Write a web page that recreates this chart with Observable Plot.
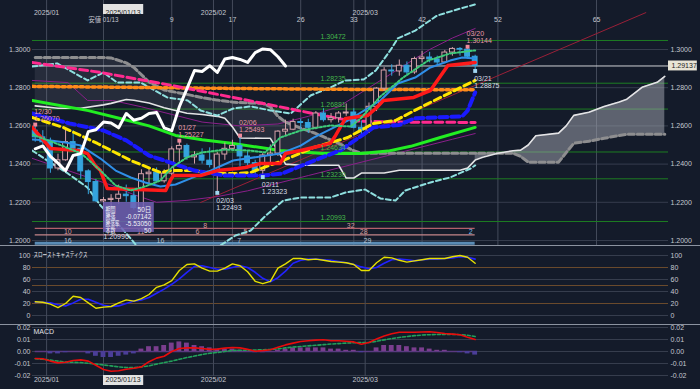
<!DOCTYPE html>
<html><head><meta charset="utf-8">
<script src="https://cdn.jsdelivr.net/npm/d3@7"></script>
<script src="https://cdn.jsdelivr.net/npm/@observablehq/plot@0.6"></script>
<style>
html,body{margin:0;padding:0;background:#141b2a;}
#chart{position:relative;width:700px;height:389px;background:#141b2a;overflow:hidden;}
.sep{position:absolute;left:0;width:700px;height:1px;background:#8c93a0;}
</style></head><body><div id="chart"></div>
<script>
// ---------- DATA (GBP/USD daily, bar index 0 = 2025/01/02) ----------
const firstBar = -2;
const open  = [1.2575,1.2540,1.2514,1.2377,1.2420,1.2515,1.2480,1.2362,1.2306,1.2205,1.2212,1.2218,1.2240,1.2232,1.2170,1.2347,1.2355,1.2310,1.2350,1.2477,1.2495,1.2435,1.2445,1.2418,1.2340,1.2450,1.2480,1.2495,1.2440,1.2405,1.2365,1.2445,1.2455,1.2570,1.2580,1.2620,1.2615,1.2590,1.2665,1.2630,1.2640,1.2665,1.2670,1.2590,1.2575,1.2700,1.2795,1.2890,1.2885,1.2915,1.2880,1.2950,1.2958,1.2948,1.2932,1.2984,1.3003,1.2999,1.2962];
const high  = [1.2607,1.2575,1.2536,1.2452,1.2576,1.2575,1.2490,1.2370,1.2320,1.2225,1.2240,1.2290,1.2290,1.2260,1.2370,1.2375,1.2380,1.2370,1.2490,1.25227,1.2505,1.2465,1.2480,1.2485,1.2460,1.2510,1.2525,1.25493,1.2470,1.2420,1.2455,1.2500,1.2575,1.2630,1.2635,1.2635,1.2635,1.2675,1.2690,1.2665,1.2675,1.2715,1.2690,1.2625,1.2720,1.2800,1.2905,1.2920,1.2945,1.2935,1.2960,1.2990,1.2985,1.2965,1.2995,1.3010,1.3010,1.30144,1.2970];
const low   = [1.2515,1.2500,1.2352,1.2365,1.2415,1.2475,1.2320,1.2240,1.2200,1.20996,1.2160,1.2190,1.2200,1.2160,1.2160,1.2285,1.2300,1.2300,1.2340,1.2410,1.2420,1.2400,1.2400,1.2380,1.22493,1.2420,1.2470,1.2385,1.2375,1.2335,1.23323,1.2400,1.2440,1.2550,1.2575,1.2580,1.2560,1.2580,1.2620,1.2615,1.2615,1.2650,1.2585,1.2555,1.2560,1.2675,1.2780,1.2860,1.2860,1.2860,1.2870,1.2930,1.2930,1.2910,1.2925,1.2965,1.2965,1.2950,1.28875];
const close = [1.2540,1.2514,1.2377,1.2420,1.2515,1.2480,1.2362,1.2306,1.2205,1.2212,1.2218,1.2240,1.2232,1.2170,1.2347,1.2355,1.2310,1.2350,1.2477,1.2495,1.2435,1.2445,1.2418,1.2395,1.2450,1.2480,1.2495,1.2440,1.2405,1.2365,1.2445,1.2455,1.2570,1.2580,1.2620,1.2615,1.2590,1.2665,1.2630,1.2640,1.2665,1.2670,1.2590,1.2575,1.2700,1.2795,1.2890,1.2885,1.2915,1.2880,1.2950,1.2958,1.2948,1.2932,1.2984,1.3003,1.2999,1.2962,1.29137];
const chikouShift = 25;

// Ichimoku cloud (senkou spans), read at these bar positions
const cloudIdx = [-2,1,4,7,8,10,11,13,15,18,20,22,23,24,25,28,29,30,31,33,35,38,39,40,41,44,46,54,55,56,57,59,61,62,63,64,67,68,69,71,73,75,76,78,80,81];
const spanA = [1.2705,1.2692,1.2692,1.2710,1.2718,1.2738,1.2734,1.2720,1.2695,1.2666,1.2660,1.2650,1.2640,1.2595,1.2537,1.2535,1.2535,1.2470,1.2400,1.2394,1.2394,1.2394,1.2327,1.2327,1.2353,1.2353,1.2368,1.2368,1.2379,1.2421,1.2436,1.2457,1.2470,1.2473,1.2500,1.2548,1.2562,1.2600,1.2655,1.2671,1.2702,1.2725,1.2740,1.2802,1.2828,1.2859];
const spanB = [1.2958,1.2958,1.2958,1.2958,1.2956,1.2930,1.2906,1.2830,1.2788,1.2765,1.2748,1.2735,1.2730,1.2725,1.2722,1.2718,1.2700,1.2650,1.2620,1.2588,1.2560,1.2509,1.2490,1.2470,1.2457,1.2457,1.2457,1.2457,1.2457,1.2457,1.2457,1.2457,1.2457,1.2440,1.2410,1.2410,1.2410,1.2460,1.2509,1.2520,1.2535,1.2550,1.2556,1.2556,1.2556,1.2556];

// indicator lines [bar, price]
const maPink   = [[-2.4,1.2932],[6.6,1.2880],[16,1.2812],[24.1,1.2749],[32.6,1.2681],[37.9,1.2639],[40,1.2626],[45,1.2620],[56,1.2618]];
const maOrange = [[-2.4,1.2807],[10,1.2802],[24,1.2796],[40,1.2791],[56,1.2789]];
const maLime   = [[-2.4,1.2733],[5,1.2680],[9.2,1.2639],[13,1.2600],[16.5,1.2550],[20,1.2528],[24.1,1.2508],[30.3,1.2471],[36,1.2456],[41,1.2455],[44.5,1.2468],[47.5,1.2493],[51.4,1.2539],[56,1.2592]];
const maYellow = [[-2.4,1.2644],[1.7,1.2592],[6.2,1.2508],[10.6,1.2419],[14.5,1.2356],[15.8,1.2366],[18.9,1.2366],[22,1.2351],[24.7,1.2351],[26.4,1.2356],[28.1,1.2382],[30.7,1.2419],[34.7,1.2487],[39.2,1.2539],[42.6,1.2613],[45.5,1.2628],[47.5,1.2670],[49.8,1.2717],[56,1.2838]];
const maBlue   = [[-2.4,1.2665],[2.5,1.2613],[7,1.2576],[10,1.2524],[13,1.2445],[15,1.2419],[19,1.2366],[23,1.2340],[28,1.2340],[30.5,1.2350],[33,1.2390],[35.5,1.2430],[38.2,1.2471],[42.6,1.2592],[46,1.2605],[48,1.2640],[54.3,1.2650],[55,1.2680],[56,1.2775]];
const tenkanRed = [[-2.4,1.2592],[-0.9,1.2524],[0,1.2482],[3.6,1.2471],[4.9,1.2455],[5.9,1.2393],[6.6,1.2366],[7.5,1.2272],[15.2,1.2262],[15.8,1.2314],[16.2,1.2340],[19.8,1.2340],[22,1.2366],[24.7,1.2377],[25.7,1.2382],[27.7,1.2403],[30.3,1.2403],[31,1.2455],[33,1.2471],[36.9,1.2508],[37.6,1.2550],[38.9,1.2639],[41.8,1.2654],[42.9,1.2691],[43.9,1.2733],[47.9,1.2749],[49.5,1.2775],[50.1,1.2785],[52.4,1.2916],[56,1.2932]];
const kijunBlue = [[-2.4,1.2529],[0,1.2524],[2,1.2513],[4,1.2497],[6.6,1.2429],[8.6,1.2366],[10.6,1.2330],[12.5,1.2304],[14.5,1.2283],[16.5,1.2293],[18.5,1.2325],[21.1,1.2366],[24.1,1.2419],[27.7,1.2440],[30.3,1.2455],[33,1.2497],[34.7,1.2539],[39.2,1.2628],[43.5,1.2733],[45.8,1.2822],[48.1,1.2853],[50.1,1.2906],[52.7,1.2942],[54.3,1.2958],[56,1.2953]];
const maGreenDot = [[-2.4,1.2555],[1.3,1.2500],[4.1,1.2455],[6.6,1.2366],[8.6,1.2288],[10.6,1.2262],[12.5,1.2283],[14.5,1.2314],[16,1.2382],[18,1.2435],[20,1.2461],[23,1.2476],[26.4,1.2471],[28.3,1.2461],[30.3,1.2539],[33,1.2576],[36.9,1.2602],[39.6,1.2597],[40.9,1.2639],[43.5,1.2754],[46.5,1.2853],[49.8,1.2942],[52.7,1.2979],[56,1.2995]];
const bbUpper2 = [[-2.4,1.2911],[0.9,1.2927],[4.9,1.2838],[7,1.2880],[8.8,1.2827],[11.9,1.2827],[15.4,1.2749],[18.1,1.2733],[19.8,1.2681],[22,1.2654],[24.1,1.2691],[26.4,1.2702],[29,1.2681],[31.7,1.2665],[34.3,1.2759],[36.9,1.2801],[38.9,1.2838],[41.3,1.2843],[42.9,1.2890],[44.8,1.2995],[45.8,1.3058],[48.1,1.3099],[51,1.3178],[54.1,1.3215],[56,1.3236]];
const bbLower2 = [[-2.4,1.2471],[0,1.2408],[2.3,1.2351],[4.9,1.2277],[6.6,1.2183],[7.9,1.2131],[9.9,1.2042],[11.9,1.1948],[14.5,1.1921],[17.8,1.1948],[19.8,1.1937],[22.4,1.1974],[24.4,1.2026],[26.4,1.2052],[28.4,1.2131],[30.7,1.2209],[33,1.2225],[36.9,1.2225],[38.9,1.2251],[41.5,1.2267],[43.5,1.2220],[45.5,1.2209],[46.8,1.2262],[50.1,1.2304],[52.7,1.2330],[55.4,1.2377],[56,1.2393]];
const bbUpper1 = [[-2.4,1.2838],[2.3,1.2827],[4.9,1.2733],[8.2,1.2733],[12,1.2700],[16,1.2660],[20,1.2620],[25,1.2600],[30,1.2610],[34,1.2650],[38,1.2700],[42,1.2800],[46,1.2900],[50,1.3000],[53,1.3060],[56,1.3110]];
const bbLower1 = [[-2.4,1.2430],[1.3,1.2380],[5,1.2330],[8,1.2290],[11,1.2240],[14,1.2200],[18,1.2210],[22,1.2230],[26,1.2260],[30,1.2300],[34,1.2340],[38,1.2380],[42,1.2420],[46,1.2460],[50,1.2500],[53,1.2530],[56,1.2560]];
const trendLine = [[19.8,1.2199],[78.5,1.3193]];

const fibLevels = [1.30472, 1.28235, 1.26881, 1.24634, 1.23230, 1.20993];
const priceTicks = [1.20, 1.22, 1.24, 1.26, 1.28, 1.30];

const extremes = [
  {i:-2, p:1.26070, date:"12/30", kind:"high"},
  {i:17, p:1.25227, date:"01/27", kind:"high"},
  {i:25, p:1.25493, date:"02/06", kind:"high"},
  {i:55, p:1.30144, date:"03/20", kind:"high"},
  {i:22, p:1.22493, date:"02/03", kind:"low"},
  {i:28, p:1.23323, date:"02/11", kind:"low"},
  {i:56, p:1.28875, date:"03/21", kind:"low"}
];

const monthLines = [{i:-0.5, label:"2025/01"}, {i:21.5, label:"2025/02"}, {i:41.5, label:"2025/03"}];
const countBase = 7;
const countNums = [0, 9, 17, 26, 33, 42, 52, 65];
const baseLabel = "安値 01/13";
const baseTag = "2025/01/13";

const cycleLevels = [1.2063, 1.2029, 1.1985];
const cycleColors = ["#b4606c", "#c4868a", "#5a8cb6"];
const cycleLabels = [
  {row:0,i:20.4,t:"8"},{row:0,i:39.6,t:"32"},
  {row:1,i:2.3,t:"10"},{row:1,i:11.9,t:"11"},{row:1,i:19.4,t:"6"},{row:1,i:25.7,t:"5"},{row:1,i:41.3,t:"28"},{row:1,i:55.4,t:"2"},
  {row:2,i:2.3,t:"16"},{row:2,i:14.5,t:"16"},{row:2,i:24.9,t:"7"},{row:2,i:41.8,t:"29"}
];

const tipRows = [["期間","50日"],["騰落","-0.07142"],["騰落率","-5.53050"],["本数","50"]];
const tipLow = "1.20996";

// stochastics (per bar from firstBar)
const stochK = [23,22,19,13,20,32,30,21,12,14,15,21,26,24,28,35,47,51,58,75,85,86,79,74,74,79,86,83,73,57,53,57,79,86,95,95,93,94,92,90,89,88,85,75,75,88,97,96,92,89,91,93,95,95,95,98,100,97,87];
const stochD = [22,22,21,18,16,21,27,27,22,17,15,16,20,24,26,30,37,44,52,61,72,82,83,80,77,77,80,83,80,72,62,56,63,74,87,92,94,94,93,92,90,88,85,81,78,80,87,93,94,93,91,93,94,94,95,96,98,97,94];
const stochTicks = [0, 20, 40, 60, 80, 100];
const stochLevels = [20, 50, 80];

// MACD (per bar from firstBar)
const macdLine = [-0.0058,-0.0060,-0.0080,-0.0095,-0.0090,-0.0075,-0.0070,-0.0080,-0.0115,-0.0150,-0.0165,-0.0160,-0.0148,-0.0140,-0.0128,-0.0085,-0.0055,-0.0040,0.0000,0.0025,0.0030,0.0030,0.0025,0.0018,0.0020,0.0028,0.0033,0.0030,0.0018,0.0002,0.0007,0.0015,0.0035,0.0055,0.0070,0.0083,0.0090,0.0095,0.0098,0.0090,0.0090,0.0085,0.0080,0.0060,0.0075,0.0105,0.0130,0.0148,0.0160,0.0160,0.0160,0.0163,0.0165,0.0158,0.0150,0.0145,0.0140,0.0118,0.0100];
const macdSignal = [-0.0060,-0.0065,-0.0072,-0.0080,-0.0088,-0.0090,-0.0092,-0.0098,-0.0105,-0.0112,-0.0120,-0.0128,-0.0133,-0.0135,-0.0128,-0.0120,-0.0105,-0.0092,-0.0080,-0.0065,-0.0050,-0.0038,-0.0025,-0.0015,-0.0008,0.0000,0.0008,0.0010,0.0010,0.0012,0.0015,0.0017,0.0022,0.0030,0.0037,0.0042,0.0047,0.0052,0.0057,0.0062,0.0066,0.0070,0.0073,0.0075,0.0075,0.0085,0.0097,0.0108,0.0117,0.0125,0.0132,0.0137,0.0140,0.0142,0.0143,0.0143,0.0140,0.0135,0.0125];
const macdHist = [0,0,-0.002,-0.002,-0.001,0,0,-0.002,-0.004,-0.005,-0.005,-0.004,-0.003,-0.002,0.002,0.004,0.004,0.005,0.007,0.008,0.007,0.005,0.004,0.003,0.002,0.002,0.002,0.001,0,-0.001,-0.001,0,0.001,0.002,0.003,0.003,0.003,0.003,0.003,0.002,0.002,0.001,0.001,-0.001,0,0.003,0.005,0.005,0.005,0.004,0.003,0.003,0.002,0.001,0.001,0,-0.001,-0.002,-0.003];
const macdTicks = [-0.02, -0.01, 0, 0.01, 0.02];

// ---------- BUILD ----------
const W = 700, ML = 32, MR = 32;
const X0 = -2.36, X1 = 81.49;
const FONT = '"Liberation Sans","Noto Sans CJK JP",sans-serif';
const TXT = "#c4c8d0", GRID = "#363d4d", VLINE = "#444b5b";
const UP = "#d6a2aa", DOWN = "#35a4de", BG = "#141b2a";

const bars = open.map((o, k) => ({i: firstBar + k, o, h: high[k], l: low[k], c: close[k]}));
const upBars = bars.filter(b => b.c >= b.o), downBars = bars.filter(b => b.c < b.o);
const chikou = bars.filter(b => b.i - chikouShift >= firstBar).map(b => ({i: b.i - chikouShift, p: b.c}));
const lastClose = close[close.length - 1];
const cloud = cloudIdx.map((i, k) => ({i, a: spanA[k], b: spanB[k]}));
const lastBar = firstBar + close.length - 1;
const cloudPast = cloud.filter(d => d.i <= lastBar), cloudFuture = cloud.filter(d => d.i >= lastBar);
const P = arr => arr.map(([i, p]) => ({i, p}));
const L = (arr, o) => Plot.line(P(arr), {x: "i", y: "p", clip: true, ...o});
const perBar = arr => arr.map((v, k) => ({i: firstBar + k, v}));
const vLinesMain = [...monthLines.map(d => d.i), ...countNums.map(n => countBase + n)];
const vLinesSub = [...monthLines.map(d => d.i), countBase];

function panel(height, yDomain, marginBottom, marks) {
  const svg = Plot.plot({
    width: W, height, marginLeft: ML, marginRight: MR, marginTop: 0, marginBottom,
    x: {domain: [X0, X1], axis: null},
    y: {domain: yDomain, axis: null},
    style: {background: "transparent", fontFamily: FONT, fontSize: "7px", color: TXT},
    marks
  });
  return svg;
}
const axisLabels = (ticks, fmt) => [
  Plot.text(ticks, {y: d => d, text: fmt, frameAnchor: "left", textAnchor: "end", dx: -2, fill: TXT, fontSize: 7}),
  Plot.text(ticks, {y: d => d, text: fmt, frameAnchor: "right", textAnchor: "start", dx: 2, fill: TXT, fontSize: 7})
];

// ----- main panel -----
const mainDomain = [1.19738, 1.32565];
const highs = extremes.filter(d => d.kind === "high"), lows = extremes.filter(d => d.kind === "low");
const tipTop = 1.2199, tipBottom = 1.2042, tipX1 = countBase, tipX2 = countBase + 6.7;
const tipRowY = [1.2162, 1.2125, 1.2087, 1.2050];

const main = panel(246, mainDomain, 1, [
  Plot.ruleY(priceTicks, {stroke: GRID}),
  Plot.ruleX(vLinesMain, {stroke: VLINE}),
  Plot.ruleY(fibLevels, {stroke: "#1d7d22"}),
  Plot.ruleY([lastClose], {stroke: "#cfd0d4"}),
  Plot.areaY(cloudPast, {x: "i", y1: "a", y2: "b", fill: "#a0a6b2", fillOpacity: 0.13}),
  Plot.areaY(cloudFuture, {x: "i", y1: "a", y2: "b", fill: "#a6aab4", fillOpacity: 0.5}),
  Plot.ruleY(cycleLevels, {y: d => d, x1: firstBar, x2: lastBar, stroke: (d, k) => cycleColors[k], strokeWidth: (d, k) => k === 2 ? 3 : 1.2}),
  Plot.text(cycleLabels, {x: "i", y: d => cycleLevels[d.row], text: "t", dy: -3, fill: d => d.row === 2 ? "#b8c6d6" : (d.t === "2" ? "#7fc0ee" : "#d69a9a"), fontSize: 7}),
  L(bbUpper1, {stroke: "#8a1f8a", strokeWidth: 1}),
  L(bbLower1, {stroke: "#8a1f8a", strokeWidth: 1}),
  L(trendLine, {stroke: "#9a2038", strokeWidth: 1}),
  Plot.line(cloud, {x: "i", y: "b", stroke: "#8e8e90", strokeWidth: 3, strokeDasharray: "6,3"}),
  Plot.line(cloud, {x: "i", y: "a", stroke: "#e4e4e6", strokeWidth: 1.6}),
  L(bbUpper2, {stroke: "#8fe0e0", strokeWidth: 2, strokeDasharray: "5,3"}),
  L(bbLower2, {stroke: "#8fe0e0", strokeWidth: 2, strokeDasharray: "5,3"}),
  L(maOrange, {stroke: "#ff8c1a", strokeWidth: 3.5, strokeDasharray: "3,3"}),
  L(maPink, {stroke: "#ff2a8f", strokeWidth: 3, strokeDasharray: "8,4"}),
  L(maLime, {stroke: "#22ee22", strokeWidth: 3}),
  Plot.ruleX(upBars, {x: "i", y1: "l", y2: "h", stroke: UP}),
  Plot.ruleX(downBars, {x: "i", y1: "l", y2: "h", stroke: DOWN}),
  Plot.rect(upBars, {x1: d => d.i - 0.32, x2: d => d.i + 0.32, y1: "o", y2: "c", fill: BG, stroke: UP}),
  Plot.rect(downBars, {x1: d => d.i - 0.32, x2: d => d.i + 0.32, y1: "c", y2: "o", fill: DOWN, stroke: DOWN}),
  L(maYellow, {stroke: "#ffe600", strokeWidth: 3, strokeDasharray: "7,4"}),
  L(maBlue, {stroke: "#1a1aff", strokeWidth: 4, strokeDasharray: "8,4"}),
  L(kijunBlue, {stroke: "#2f8fe8", strokeWidth: 2}),
  L(tenkanRed, {stroke: "#ff1a1a", strokeWidth: 3.5}),
  L(maGreenDot, {stroke: "#3dcc7a", strokeWidth: 2, strokeDasharray: "2,2"}),
  Plot.line(chikou, {x: "i", y: "p", stroke: "#ffffff", strokeWidth: 3}),
  // extremes
  Plot.dot(highs, {x: "i", y: "p", symbol: "square", r: 2.2, fill: "#f08a9c"}),
  Plot.dot(lows, {x: "i", y: "p", symbol: "square", r: 2.2, fill: "#a2d6f0"}),
  Plot.text(highs, {x: "i", y: "p", text: "date", dy: -13, dx: -1, textAnchor: "start", fill: "#e89aa8", fontSize: 7}),
  Plot.text(highs, {x: "i", y: "p", text: d => d.p.toFixed(5), dy: -6, dx: -1, textAnchor: "start", fill: "#e89aa8", fontSize: 7}),
  Plot.text(lows, {x: "i", y: "p", text: "date", dy: 8, dx: -1, textAnchor: "start", fill: "#d8dce4", fontSize: 7}),
  Plot.text(lows, {x: "i", y: "p", text: d => d.p.toFixed(5), dy: 15, dx: -1, textAnchor: "start", fill: "#d8dce4", fontSize: 7}),
  // fib labels
  Plot.text(fibLevels, {x: 35.6, y: d => d, text: d => d.toFixed(5), dy: -4, textAnchor: "start", fill: "#45b84a", fontSize: 7}),
  // tooltip
  Plot.rect([0], {x1: tipX1, x2: tipX2, y1: tipBottom, y2: tipTop, fill: "#7060b4", fillOpacity: 0.85}),
  Plot.text(tipRows, {x: tipX1, y: (d, k) => tipRowY[k], text: d => d[0], dx: 2, textAnchor: "start", fill: "#f0f0f6", fontSize: 6.5}),
  Plot.text(tipRows, {x: tipX2, y: (d, k) => tipRowY[k], text: d => d[1], dx: -3, textAnchor: "end", fill: "#f0f0f6", fontSize: 6.5}),
  Plot.text([tipLow], {x: tipX1, y: 1.2021, text: d => d, textAnchor: "start", fill: "#d8dce4", fontSize: 7}),
  // top labels
  Plot.text(monthLines, {x: "i", text: "label", frameAnchor: "top", dy: 10, fill: TXT, fontSize: 7}),
  Plot.text(countNums, {x: d => countBase + d, text: d => d === 0 ? baseLabel : String(d), frameAnchor: "top", dy: 17, fill: TXT, fontSize: 7}),
  Plot.rect([0], {x1: countBase, x2: countBase + 5.3, y1: 1.31832, y2: 1.32356, fill: "#e2e2e2"}),
  Plot.text([baseTag], {x: countBase, text: d => d, frameAnchor: "top", dy: 9.5, dx: 2, textAnchor: "start", fill: "#222", fontSize: 7}),
  // axis labels
  ...axisLabels(priceTicks, d => d.toFixed(4)),
  // last price tag
  Plot.rect([lastClose], {x1: X1, x2: X1 + 3.8, y1: d => d - 0.0026, y2: d => d + 0.0026, fill: "#e8e4d6"}),
  Plot.text([lastClose], {y: d => d, text: d => d.toFixed(5), frameAnchor: "right", dx: 3, textAnchor: "start", fill: "#1a1a1a", fontSize: 7})
]);

// ----- stochastics -----
const kData = perBar(stochK), dData = perBar(stochD);
const stoch = panel(78, [-15, 115], 0, [
  Plot.ruleY(stochTicks, {stroke: GRID}),
  Plot.ruleY(stochLevels, {stroke: "#6a4a2c"}),
  Plot.ruleX(vLinesSub, {stroke: VLINE}),
  Plot.line(dData, {x: "i", y: "v", stroke: "#2222ff", strokeWidth: 1.6}),
  Plot.line(kData, {x: "i", y: "v", stroke: "#e6e000", strokeWidth: 1.4}),
  Plot.text(["スローストキャスティクス"], {text: d => d, frameAnchor: "top-left", dx: 1, dy: 6, textAnchor: "start", fill: "#e0e2e8", fontSize: 7}),
  ...axisLabels(stochTicks, d => String(d))
]);

// ----- MACD -----
const histData = perBar(macdHist);
const macd = panel(64, [-0.020833, 0.021667], 13, [
  Plot.ruleY(macdTicks, {stroke: GRID}),
  Plot.ruleX(vLinesSub, {stroke: VLINE}),
  Plot.ruleY([0], {x1: firstBar, x2: lastBar + 0.3, stroke: "#5a3a80", strokeWidth: 1.5}),
  Plot.rect(histData.filter(d => d.v > 0), {x1: d => d.i - 0.32, x2: d => d.i + 0.32, y1: 0, y2: "v", fill: "#7a3e8e"}),
  Plot.rect(histData.filter(d => d.v < 0), {x1: d => d.i - 0.32, x2: d => d.i + 0.32, y1: "v", y2: 0, fill: "#4b3e98"}),
  Plot.line(perBar(macdSignal), {x: "i", y: "v", stroke: "#22a05a", strokeWidth: 1.6, strokeDasharray: "3,2"}),
  Plot.line(perBar(macdLine), {x: "i", y: "v", stroke: "#e80c0c", strokeWidth: 1.6}),
  Plot.text(["MACD"], {text: d => d, frameAnchor: "top-left", dx: 1, dy: 4, textAnchor: "start", fill: "#e0e2e8", fontSize: 7}),
  ...axisLabels(macdTicks, d => d.toFixed(2)),
  Plot.text(monthLines, {x: "i", text: "label", frameAnchor: "bottom", dy: 5, fill: TXT, fontSize: 7}),
  Plot.rect([0], {x1: countBase, x2: countBase + 5.3, y1: -0.02833, y2: -0.0200, fill: "#e2e2e2"}),
  Plot.text([baseTag], {x: countBase, text: d => d, frameAnchor: "bottom", dy: 5, dx: 2, textAnchor: "start", fill: "#222", fontSize: 7})
]);

const chart = document.getElementById("chart");
[[main, 0], [stoch, 246], [macd, 325]].forEach(([svg, top]) => {
  svg.style.position = "absolute"; svg.style.left = "0px"; svg.style.top = top + "px"; svg.style.overflow = "hidden";
  chart.appendChild(svg);
});
[245, 324].forEach(t => { const d = document.createElement("div"); d.className = "sep"; d.style.top = t + "px"; chart.appendChild(d); });

const squeeze = {"スローストキャスティクス": 54, "期間": 10, "騰落": 10, "騰落率": 14, "本数": 10, "安値 01/13": 30};
chart.querySelectorAll("text").forEach(t => {
  const w = squeeze[t.textContent];
  if (w) { t.setAttribute("textLength", w); t.setAttribute("lengthAdjust", "spacingAndGlyphs"); }
});
</script></body></html>
